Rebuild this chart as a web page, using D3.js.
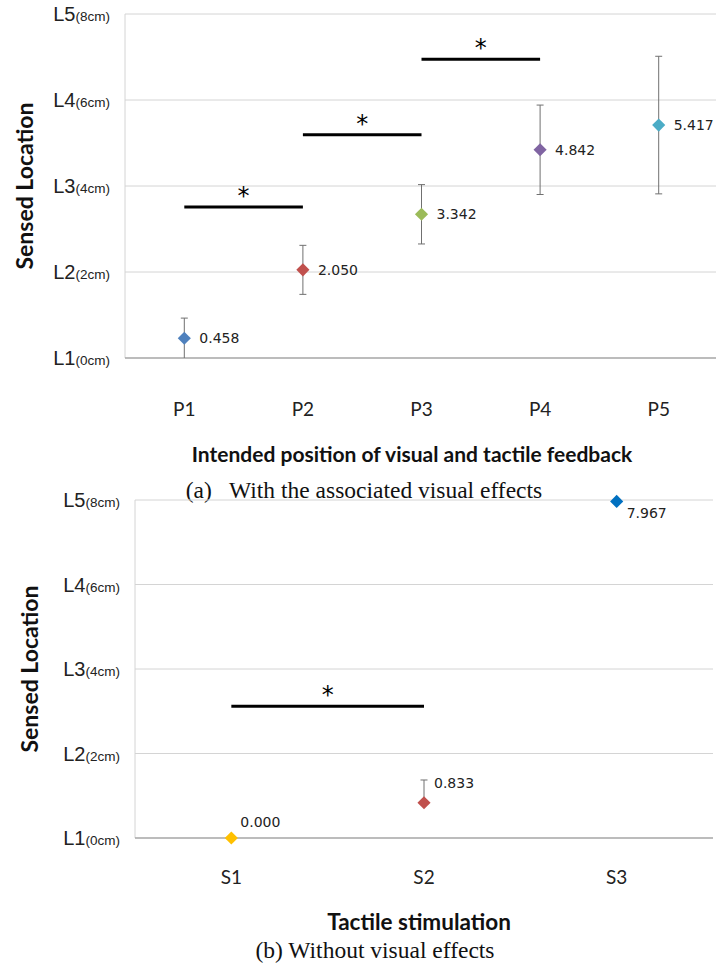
<!DOCTYPE html>
<html>
<head>
<meta charset="utf-8">
<script src="https://cdn.jsdelivr.net/npm/d3@7"></script>
<style>
  body { margin: 0; background: #fff; }
  svg { display: block; }
</style>
</head>
<body>
<svg width="716" height="964"></svg>
<script>
// y axis: sensed location, cm
const yTicks = [0, 2, 4, 6, 8];
const yTickMain = ["L1", "L2", "L3", "L4", "L5"];
const yTickSub = ["(0cm)", "(2cm)", "(4cm)", "(6cm)", "(8cm)"];

// (a) with visual effects
const topCats = ["P1", "P2", "P3", "P4", "P5"];
const topMeans = [0.458, 2.050, 3.342, 4.842, 5.417];
const topErrUp = [0.47, 0.57, 0.69, 1.04, 1.60];
const topErrDown = [0.47, 0.57, 0.69, 1.04, 1.60];
const topSig = [["P1", "P2", 3.51], ["P2", "P3", 5.19], ["P3", "P4", 6.95]];

// (b) without visual effects
const botCats = ["S1", "S2", "S3"];
const botMeans = [0.000, 0.833, 7.967];
const botErrUp = [0, 0.54, 0];
const botErrDown = [0, 0, 0];
const botSig = [["S1", "S2", 3.12]];

const topColors = ["#4f81bd", "#c0504d", "#9bbb59", "#8064a2", "#4bacc6"];
const botColors = ["#ffc000", "#c0504d", "#0070c0"];

const svg = d3.select("svg");

function drawPanel(o) {
  const g = svg.append("g");
  const x = d3.scaleBand().domain(o.cats).range([o.left, o.right]);
  const y = d3.scaleLinear().domain([0, 8]).range([o.bottom, o.top]);
  const cx = d => x(d) + x.bandwidth() / 2;

  // gridlines
  g.selectAll(".grid").data(yTicks.slice(1)).enter().append("line")
    .attr("x1", o.left).attr("x2", o.right)
    .attr("y1", d => y(d)).attr("y2", d => y(d))
    .attr("stroke", "#d4d4d4").attr("stroke-width", 1);
  // left axis line
  g.append("line").attr("x1", o.left).attr("x2", o.left)
    .attr("y1", y(8)).attr("y2", y(0)).attr("stroke", "#d4d4d4");
  // bottom axis
  g.append("line").attr("x1", o.left).attr("x2", o.right)
    .attr("y1", y(0)).attr("y2", y(0)).attr("stroke", "#a6a6a6").attr("stroke-width", 1.5);

  // y tick labels
  const yl = g.selectAll(".ylab").data(yTicks).enter().append("text")
    .attr("x", o.labelRight).attr("y", d => y(d) + 7)
    .attr("text-anchor", "end")
    .style("font-family", "'Liberation Sans', Arial, sans-serif")
    .style("fill", "#222");
  yl.append("tspan").text((d, i) => yTickMain[i]).style("font-size", "20px");
  yl.append("tspan").text((d, i) => yTickSub[i]).style("font-size", "13.5px");

  // y title
  g.append("text")
    .attr("transform", "translate(" + o.yTitleX + "," + y(4) + ") rotate(-90)")
    .attr("text-anchor", "middle").attr("dy", "0.35em")
    .style("font-family", "Lato, sans-serif").style("font-weight", "bold")
    .style("font-size", "23px").style("fill", "#111")
    .text("Sensed Location");

  // x tick labels
  g.selectAll(".xlab").data(o.cats).enter().append("text")
    .attr("x", cx).attr("y", o.xLabY).attr("dy", "0.35em")
    .attr("text-anchor", "middle")
    .style("font-family", "Lato, sans-serif").style("font-size", "19px").style("fill", "#222")
    .text(d => d);

  // x title
  g.append("text").attr("x", o.xTitleX).attr("y", o.xTitleY).attr("dy", "0.35em")
    .attr("text-anchor", "middle")
    .style("font-family", "Lato, sans-serif").style("font-weight", "bold")
    .style("font-size", o.xTitleSize).style("fill", "#111")
    .text(o.xTitle);

  // caption
  g.append("text").attr("x", o.capX).attr("y", o.capY).attr("dy", "0.33em")
    .attr("text-anchor", "middle").attr("xml:space", "preserve")
    .style("font-family", "'Liberation Serif', 'Times New Roman', serif")
    .style("font-size", "23.5px").style("fill", "#111")
    .text(o.caption);

  // significance bars
  o.sig.forEach(s => {
    g.append("line").attr("x1", cx(s[0])).attr("x2", cx(s[1]))
      .attr("y1", y(s[2])).attr("y2", y(s[2]))
      .attr("stroke", "#000").attr("stroke-width", 3);
    g.append("text").attr("x", (cx(s[0]) + cx(s[1])) / 2).attr("y", y(s[2]) - 3)
      .attr("text-anchor", "middle")
      .style("font-family", "'DejaVu Sans', sans-serif").style("font-size", "24px")
      .text("*");
  });

  // error bars
  o.cats.forEach((c, i) => {
    const hi = Math.min(8, o.means[i] + o.errUp[i]);
    const lo = Math.max(0, o.means[i] - o.errDown[i]);
    if (hi - lo <= 0) return;
    g.append("line").attr("x1", cx(c)).attr("x2", cx(c))
      .attr("y1", y(hi)).attr("y2", y(lo)).attr("stroke", "#707070").attr("stroke-width", 1);
    [[hi, o.errUp[i]], [lo, o.errDown[i]]].forEach(e => {
      if (e[1] > 0 && e[0] > 0) {
        g.append("line").attr("x1", cx(c) - 3.5).attr("x2", cx(c) + 3.5)
          .attr("y1", y(e[0])).attr("y2", y(e[0])).attr("stroke", "#707070");
      }
    });
  });

  // diamonds
  g.selectAll(".pt").data(o.cats).enter().append("path")
    .attr("d", d3.symbol().type(d3.symbolDiamond2).size(110))
    .attr("transform", (d, i) => "translate(" + cx(d) + "," + y(o.means[i]) + ")")
    .attr("fill", (d, i) => o.colors[i]);

  // value labels
  g.selectAll(".val").data(o.cats).enter().append("text")
    .attr("x", (d, i) => cx(d) + o.labOff[i][0])
    .attr("y", (d, i) => y(o.means[i]) + o.labOff[i][1])
    .style("font-family", "'DejaVu Sans', Verdana, sans-serif").style("font-size", "14px")
    .style("fill", "#222")
    .text((d, i) => o.means[i].toFixed(3));
}

drawPanel({
  cats: topCats, means: topMeans, errUp: topErrUp, errDown: topErrDown, sig: topSig,
  colors: topColors,
  left: 125, right: 718, top: 14, bottom: 358,
  labelRight: 110, yTitleX: 25,
  xLabY: 409, xTitle: "Intended position of visual and tactile feedback", xTitleSize: "21px",
  xTitleX: 412, xTitleY: 455,
  caption: "(a)   With the associated visual effects", capX: 364, capY: 490,
  labOff: [[15, 5], [15, 5], [15, 5], [15, 5], [15, 5]]
});

drawPanel({
  cats: botCats, means: botMeans, errUp: botErrUp, errDown: botErrDown, sig: botSig,
  colors: botColors,
  left: 135, right: 713, top: 500, bottom: 838,
  labelRight: 120, yTitleX: 30,
  xLabY: 877, xTitle: "Tactile stimulation", xTitleSize: "22.5px",
  xTitleX: 419, xTitleY: 922,
  caption: "(b) Without visual effects", capX: 375, capY: 950,
  labOff: [[9, -11], [10, -15], [10, 17]]
});
</script>
</body>
</html>
